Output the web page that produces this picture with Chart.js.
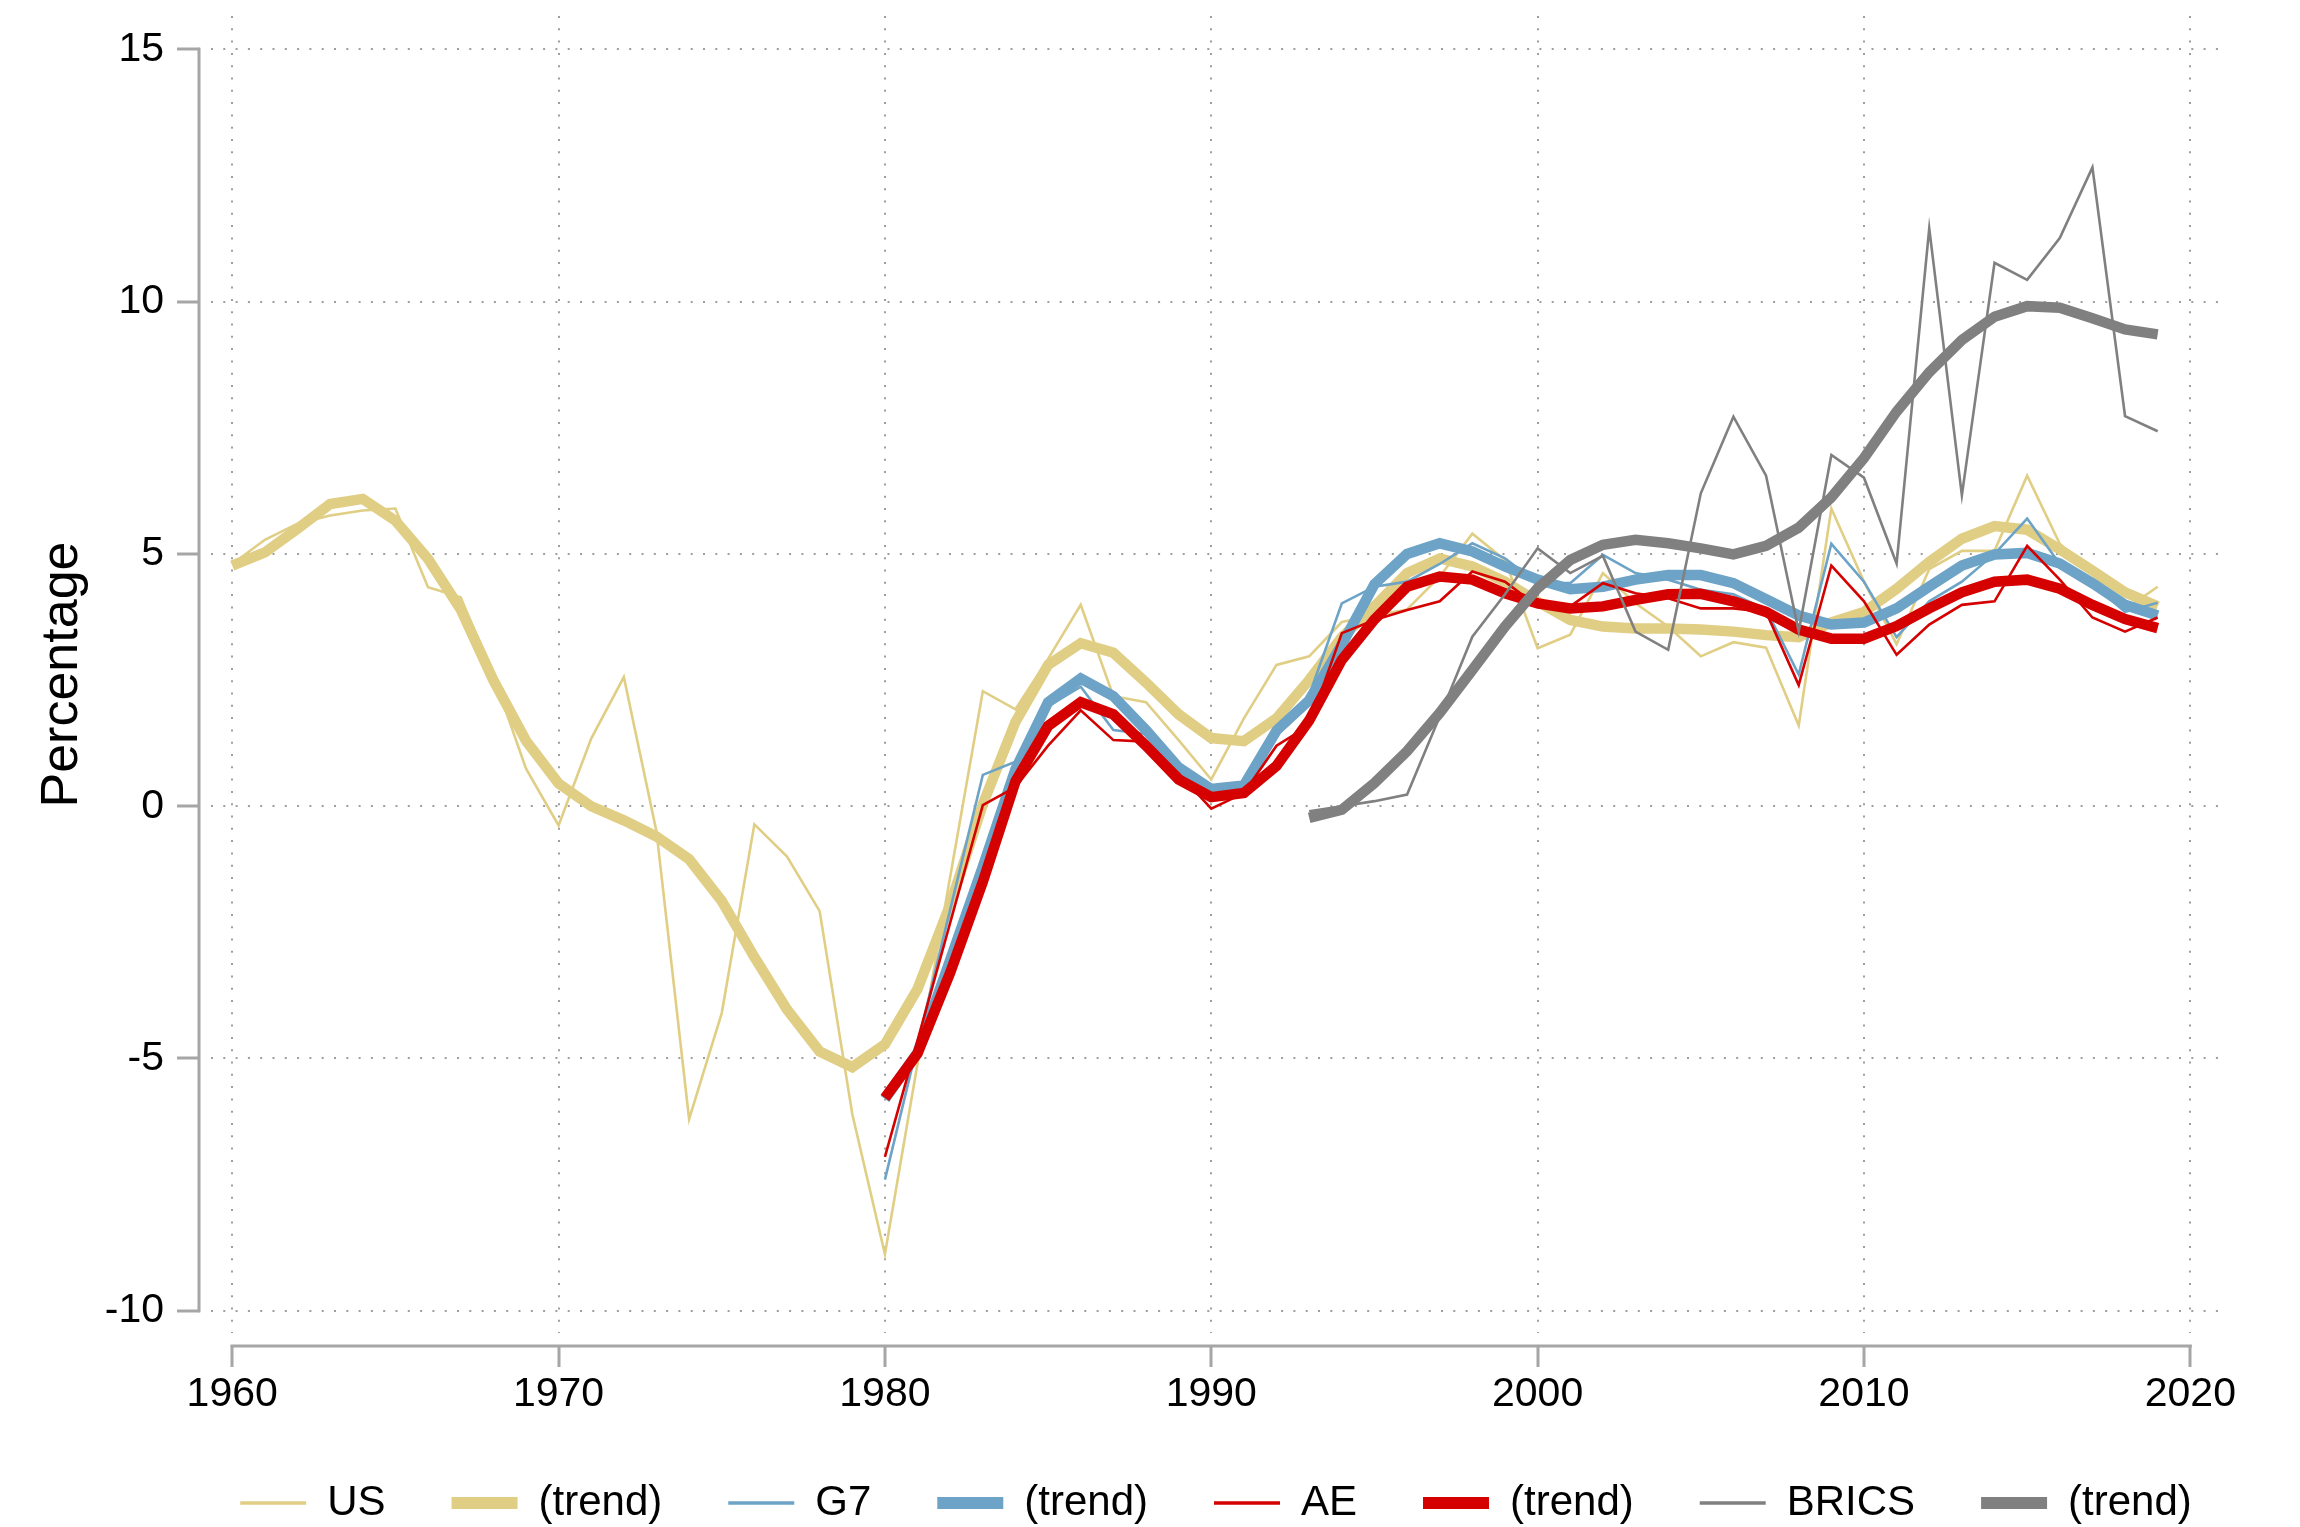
<!DOCTYPE html>
<html>
<head>
<meta charset="utf-8">
<script src="https://cdn.jsdelivr.net/npm/chart.js@4.4.1/dist/chart.umd.min.js"></script>
<style>
  html, body { margin: 0; padding: 0; background: #fff; }
  canvas { display: block; }
</style>
</head>
<body>
<canvas id="chart" width="2300" height="1527"></canvas>
<script>
// years on the x axis
const years = [
  1960, 1961, 1962, 1963, 1964, 1965, 1966, 1967, 1968, 1969,
  1970, 1971, 1972, 1973, 1974, 1975, 1976, 1977, 1978, 1979,
  1980, 1981, 1982, 1983, 1984, 1985, 1986, 1987, 1988, 1989,
  1990, 1991, 1992, 1993, 1994, 1995, 1996, 1997, 1998, 1999,
  2000, 2001, 2002, 2003, 2004, 2005, 2006, 2007, 2008, 2009,
  2010, 2011, 2012, 2013, 2014, 2015, 2016, 2017, 2018, 2019
];

// US, 1960-2019
const usRate = [
  4.8, 5.28, 5.6, 5.76, 5.86, 5.9, 4.34, 4.14, 2.6, 0.75,
  -0.38, 1.34, 2.56, -0.5, -6.2, -4.1, -0.36, -1.0, -2.08, -6.1,
  -8.88, -5.1, -1.4, 2.28, 1.92, 2.92, 3.99, 2.18, 2.06, 1.31,
  0.53, 1.74, 2.8, 2.97, 3.65, 3.78, 3.9, 4.55, 5.4, 4.88,
  3.13, 3.4, 4.62, 4.02, 3.56, 2.97, 3.25, 3.14, 1.6, 5.9,
  4.45, 3.21, 4.7, 5.06, 5.06, 6.55, 5.2, 4.6, 3.9, 4.35
];
const usTrend = [
  4.77, 5.03, 5.5, 5.99, 6.09, 5.66, 4.9, 3.9, 2.5, 1.3,
  0.45, 0.0, -0.28, -0.6, -1.05, -1.88, -2.99, -4.03, -4.86, -5.17,
  -4.72, -3.62, -1.95, 0.04, 1.67, 2.8, 3.23, 3.04, 2.45, 1.82,
  1.35, 1.29, 1.74, 2.5, 3.35, 3.96, 4.62, 4.91, 4.75, 4.45,
  4.05, 3.69, 3.56, 3.52, 3.52, 3.5, 3.46, 3.39, 3.35, 3.64,
  3.85, 4.31, 4.84, 5.3, 5.55, 5.48, 5.09, 4.67, 4.24, 3.96
];

// G7, 1980-2019
const g7Rate = [
  -7.4, -4.72, -2.05, 0.62, 0.88, 1.98, 2.37, 1.51, 1.43, 0.8,
  0.26, 0.49, 1.51, 2.2, 4.02, 4.35, 4.45, 4.8, 5.21, 4.91,
  4.42, 4.42, 4.98, 4.62, 4.49, 4.29, 4.2, 3.9, 2.61, 5.2,
  4.45, 3.35, 4.06, 4.45, 5.0, 5.7, 4.8, 4.4, 3.85, 4.03
];
const g7Trend = [
  -5.8, -4.88, -3.05, -1.2, 0.73, 2.06, 2.53, 2.18, 1.51, 0.77,
  0.34, 0.41, 1.5, 2.1, 3.2, 4.4, 5.0, 5.21, 5.05, 4.75,
  4.49, 4.3, 4.35, 4.49, 4.58, 4.58, 4.42, 4.1, 3.78, 3.6,
  3.64, 3.92, 4.35, 4.77, 4.99, 5.02, 4.81, 4.42, 3.99, 3.78
];

// AE, 1980-2019
const aeRate = [
  -6.95, -4.64, -2.31, 0.02, 0.38, 1.2, 1.9, 1.31, 1.28, 0.65,
  -0.05, 0.26, 1.2, 1.6, 3.43, 3.69, 3.89, 4.06, 4.65, 4.45,
  3.96, 3.96, 4.42, 4.22, 4.12, 3.92, 3.92, 3.85, 2.4, 4.77,
  4.06, 3.0, 3.6, 3.99, 4.06, 5.16, 4.49, 3.74, 3.46, 3.74
];
const aeTrend = [
  -5.78, -4.9, -3.3, -1.5, 0.49, 1.59, 2.06, 1.82, 1.2, 0.53,
  0.18, 0.26, 0.8, 1.7, 2.9, 3.7, 4.35, 4.55, 4.49, 4.22,
  4.02, 3.92, 3.96, 4.09, 4.2, 4.21, 4.06, 3.85, 3.5, 3.32,
  3.32, 3.57, 3.92, 4.24, 4.45, 4.49, 4.31, 3.99, 3.71, 3.53
];

// BRICS, 1993-2019
const bricsRate = [
  -0.1, 0.0, 0.1, 0.23, 1.78, 3.36, 4.2,
  5.11, 4.62, 4.96, 3.46, 3.1, 6.2, 7.72, 6.55, 3.46, 6.96,
  6.51, 4.81, 11.45, 6.16, 10.77, 10.43, 11.26, 12.66, 7.73, 7.43
];
const bricsTrend = [
  -0.23, -0.07, 0.46, 1.09, 1.85, 2.7, 3.56,
  4.32, 4.88, 5.18, 5.28, 5.21, 5.11, 4.99, 5.16, 5.52, 6.12,
  6.9, 7.82, 8.6, 9.24, 9.7, 9.91, 9.88, 9.67, 9.45, 9.35
];

const xTicks = [1960, 1970, 1980, 1990, 2000, 2010, 2020];
const yTicks = [-10, -5, 0, 5, 10, 15];

const FONT = "'Liberation Sans', Arial, Helvetica, sans-serif";
const AXIS_GREY = '#a6a6a6';
const GRID_GREY = '#9e9e9e';
const THIN = 2.6;
const THICK = 10.5;

function points(values, firstYear) {
  const start = years.indexOf(firstYear);
  return values.map((v, i) => ({ x: years[start + i], y: v }));
}

const series = [
  { label: 'US', values: usRate, from: 1960, color: '#E1CE85', width: THIN },
  { label: '(trend)', values: usTrend, from: 1960, color: '#E1CE85', width: THICK },
  { label: 'G7', values: g7Rate, from: 1980, color: '#6CA3C6', width: THIN },
  { label: '(trend)', values: g7Trend, from: 1980, color: '#6CA3C6', width: THICK },
  { label: 'AE', values: aeRate, from: 1980, color: '#D50000', width: THIN },
  { label: '(trend)', values: aeTrend, from: 1980, color: '#D50000', width: THICK },
  { label: 'BRICS', values: bricsRate, from: 1993, color: '#808080', width: THIN },
  { label: '(trend)', values: bricsTrend, from: 1993, color: '#808080', width: THICK },
];

const datasets = series.map((s, i) => ({
  label: s.label,
  data: points(s.values, s.from),
  borderColor: s.color,
  backgroundColor: s.color,
  borderWidth: s.width,
  pointRadius: 0,
  tension: 0,
  fill: false,
  order: series.length - i, // later series drawn on top
}));

// axis lines sit a little away from the plot region, stata style
const axisLines = {
  id: 'axisLines',
  afterDraw(chart) {
    const { ctx, chartArea, scales: { x, y } } = chart;
    ctx.save();
    ctx.strokeStyle = AXIS_GREY;
    ctx.lineWidth = 3;
    ctx.lineCap = 'square';
    const ax = chartArea.left - 12;
    ctx.beginPath();
    ctx.moveTo(ax, y.getPixelForValue(yTicks[0]));
    ctx.lineTo(ax, y.getPixelForValue(yTicks[yTicks.length - 1]));
    ctx.stroke();
    const ay = chartArea.bottom + 13;
    ctx.beginPath();
    ctx.moveTo(x.getPixelForValue(xTicks[0]), ay);
    ctx.lineTo(x.getPixelForValue(xTicks[xTicks.length - 1]), ay);
    ctx.stroke();
    ctx.restore();
  }
};

new Chart(document.getElementById('chart'), {
  type: 'line',
  data: { datasets },
  options: {
    responsive: false,
    animation: false,
    devicePixelRatio: 1,
    layout: { padding: { left: 100, right: -32, top: 16, bottom: 0 } },
    plugins: {
      tooltip: { enabled: false },
      legend: {
        position: 'bottom',
        align: 'center',
        maxHeight: 111,
        labels: {
          usePointStyle: true,
          pointStyleWidth: 66,
          padding: 66,
          color: '#000',
          font: { family: FONT, size: 42 },
          generateLabels: (chart) => chart.data.datasets.map((ds, i) => ({
            text: ds.label,
            strokeStyle: ds.borderColor,
            fillStyle: ds.borderColor,
            lineWidth: ds.borderWidth > 5 ? 12 : 3.3,
            lineCap: 'butt',
            pointStyle: 'line',
            hidden: false,
            datasetIndex: i,
          })),
        },
      },
    },
    scales: {
      x: {
        type: 'linear',
        bounds: 'data',
        min: 1959.35,
        max: 2020.94,
        afterBuildTicks: (s) => { s.ticks = xTicks.map((v) => ({ value: v })); },
        afterFit: (s) => { s.height = 83; },
        border: { display: false, dash: [2, 10.3] },
        grid: {
          color: GRID_GREY,
          lineWidth: 2,
          drawTicks: true,
          tickLength: 34,
          tickColor: AXIS_GREY,
          tickWidth: 3,
          tickBorderDash: [0, 12, 22, 100],
        },
        ticks: {
          callback: (v) => String(v),
          color: '#000',
          font: { family: FONT, size: 41 },
          padding: 3,
          maxRotation: 0,
          autoSkip: false,
        },
      },
      y: {
        type: 'linear',
        bounds: 'data',
        min: -10.44,
        max: 15.66,
        afterBuildTicks: (s) => { s.ticks = yTicks.map((v) => ({ value: v })); },
        afterFit: (s) => { s.width = 111; s.paddingTop = 0; s.paddingBottom = 0; },
        border: { display: false, dash: [2, 10.3] },
        grid: {
          color: GRID_GREY,
          lineWidth: 2,
          drawTicks: true,
          tickLength: 34,
          tickColor: AXIS_GREY,
          tickWidth: 3,
          tickBorderDash: [23, 100],
        },
        ticks: {
          callback: (v) => String(v),
          color: '#000',
          font: { family: FONT, size: 41 },
          padding: 13,
        },
        title: {
          display: true,
          text: 'Percentage',
          color: '#000',
          font: { family: FONT, size: 52 },
          padding: { top: -69, bottom: 0 },
        },
      },
      spacer: {
        type: 'linear',
        position: 'right',
        display: true,
        afterFit: (s) => { s.width = 111; },
        grid: { display: false },
        border: { display: false },
        ticks: { display: false },
      },
    },
  },
  plugins: [axisLines],
});
</script>
</body>
</html>
